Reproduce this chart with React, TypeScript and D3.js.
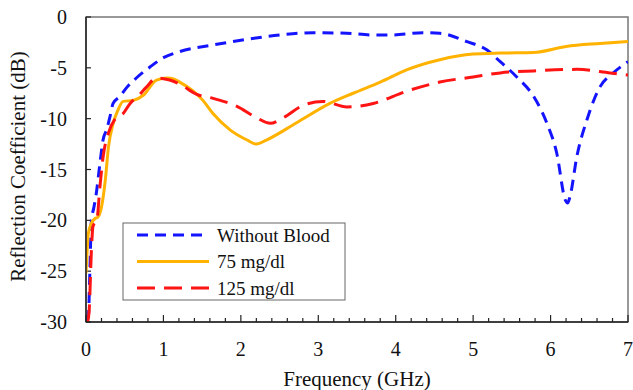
import React from "react";
import * as d3 from "d3";

// series
const freqWithout = [0, 0.03, 0.05, 0.07, 0.1, 0.13, 0.18, 0.22, 0.27, 0.31, 0.35, 0.44, 0.53, 0.65, 0.83, 1.0, 1.21, 1.64, 2.08, 2.51, 2.93, 3.37, 3.71, 3.93, 4.35, 4.57, 4.92, 5.18, 5.35, 5.56, 5.78, 5.95, 6.08, 6.19, 6.22, 6.25, 6.34, 6.47, 6.64, 6.81, 7.0];
const dbWithout = [-29.8, -29.5, -25, -20, -18.8, -17.5, -14.4, -12.1, -11, -9.8, -8.5, -7.8, -6.9, -6, -4.9, -4.0, -3.4, -2.75, -2.2, -1.77, -1.54, -1.6, -1.77, -1.77, -1.54, -1.6, -2.43, -3.25, -4.4, -5.87, -7.8, -10.4, -13.4, -18.0, -18.3, -17.7, -13.7, -10.1, -6.85, -5.5, -4.4];

const freq75 = [0, 0.03, 0.07, 0.12, 0.15, 0.2, 0.25, 0.29, 0.35, 0.41, 0.48, 0.61, 0.74, 0.91, 1.05, 1.13, 1.21, 1.51, 1.64, 1.86, 2.08, 2.2, 2.33, 2.72, 3.15, 3.45, 3.8, 4.14, 4.57, 5.0, 5.35, 5.78, 6.2, 6.64, 7.0];
const db75 = [-25.2, -21.3, -20.3, -19.8, -19.7, -18.7, -16, -12.8, -10.5, -9.2, -8.3, -8.2, -7.7, -6.2, -6.0, -6.1, -6.4, -8.2, -9.5, -11.1, -12.1, -12.5, -12.1, -10.4, -8.5, -7.5, -6.4, -5.2, -4.2, -3.65, -3.55, -3.5, -2.9, -2.6, -2.4];

const freq125 = [0.02, 0.04, 0.07, 0.09, 0.14, 0.18, 0.22, 0.29, 0.37, 0.48, 0.57, 0.67, 0.78, 0.91, 1.08, 1.21, 1.43, 1.64, 1.95, 2.2, 2.38, 2.55, 2.8, 3.06, 3.37, 3.71, 4.14, 4.57, 5.0, 5.35, 5.78, 6.34, 6.77, 7.0];
const db125 = [-30, -29, -22.9, -20.6, -20.0, -16.7, -13.8, -11.4, -10.1, -9.5, -8.5, -7.8, -6.9, -6.0, -6.2, -6.6, -7.6, -8.0, -8.8, -9.9, -10.45, -9.9, -8.7, -8.3, -8.85, -8.5, -7.3, -6.4, -5.9, -5.5, -5.3, -5.15, -5.5, -5.7];

const seriesNames = ["Without Blood", "75 mg/dl", "125 mg/dl"];
const xTicks = [0, 1, 2, 3, 4, 5, 6, 7];
const yTicks = [0, -5, -10, -15, -20, -25, -30];

const W = 633, H = 390;
const left = 86, right = 628, top = 17, bottom = 322;

export default function App() {
  const x = d3.scaleLinear().domain([0, 7]).range([left, right]);
  const y = d3.scaleLinear().domain([-30, 0]).range([bottom, top]);
  const line = d3.line<[number, number]>()
    .x((d) => x(d[0]))
    .y((d) => y(d[1]))
    .curve(d3.curveMonotoneX);

  const zip = (a: number[], b: number[]) => a.map((v, i) => [v, b[i]] as [number, number]);
  const series = [
    { name: seriesNames[0], pts: zip(freqWithout, dbWithout), color: "#1414ff", dash: "11,7", width: 3 },
    { name: seriesNames[1], pts: zip(freq75, db75), color: "#ffb300", dash: "", width: 3 },
    { name: seriesNames[2], pts: zip(freq125, db125), color: "#ff1414", dash: "18,9", width: 3 },
  ];
  const minor = d3.range(0, 7.001, 0.2);
  const txt = { fontFamily: "Liberation Serif, Tinos, Times New Roman, DejaVu Serif, serif" };

  return (
    <svg width={W} height={H} style={{ position: "absolute", left: 0, top: 0, background: "#fff" }}>
      <defs>
        <clipPath id="plot">
          <rect x={left} y={top} width={right - left} height={bottom - top} />
        </clipPath>
      </defs>
      <rect x={left} y={top} width={right - left} height={bottom - top} fill="none" stroke="#777" strokeWidth={1.5} />

      {/* ticks */}
      {minor.map((t, i) => (
        <line key={"mx" + i} x1={x(t)} x2={x(t)} y1={bottom} y2={bottom - (i % 5 === 0 ? 7 : 4)} stroke="#222" strokeWidth={1.2} />
      ))}
      {yTicks.map((t) => (
        <line key={"yt" + t} x1={left} x2={left + 5} y1={y(t)} y2={y(t)} stroke="#222" strokeWidth={1.2} />
      ))}

      <g clipPath="url(#plot)">
        {series.map((s) => (
          <path key={s.name} d={line(s.pts) || ""} fill="none" stroke={s.color} strokeWidth={s.width} strokeDasharray={s.dash} />
        ))}
      </g>

      <line x1={left} x2={left} y1={top} y2={bottom} stroke="#222" strokeWidth={1.5} />
      <line x1={left} x2={right} y1={bottom} y2={bottom} stroke="#222" strokeWidth={1.5} />

      {xTicks.map((t) => (
        <text key={"xl" + t} style={txt} x={x(t)} y={356} textAnchor="middle" fontSize={20} fill="#111">{t}</text>
      ))}
      {yTicks.map((t) => (
        <text key={"yl" + t} style={txt} x={67} y={y(t)} dy="0.35em" textAnchor="end" fontSize={20} fill="#111">{t}</text>
      ))}
      <text style={txt} x={(left + right) / 2} y={386} textAnchor="middle" fontSize={21} fill="#111">Frequency (GHz)</text>
      <text style={txt} transform={`translate(25,${(top + bottom) / 2 - 3}) rotate(-90)`} textAnchor="middle" fontSize={21} fill="#111">Reflection Coefficient (dB)</text>

      {/* legend */}
      <rect x={123} y={223} width={222} height={77} fill="#fff" stroke="#666" strokeWidth={1} />
      {series.map((s, i) => (
        <g key={"lg" + s.name} transform={`translate(0,${235 + i * 26.5})`}>
          <line x1={137} x2={209} y1={0} y2={0} stroke={s.color} strokeWidth={s.width} strokeDasharray={s.dash} />
          <text style={txt} x={217} y={0} dy="0.35em" fontSize={19} fill="#111">{s.name}</text>
        </g>
      ))}
    </svg>
  );
}
